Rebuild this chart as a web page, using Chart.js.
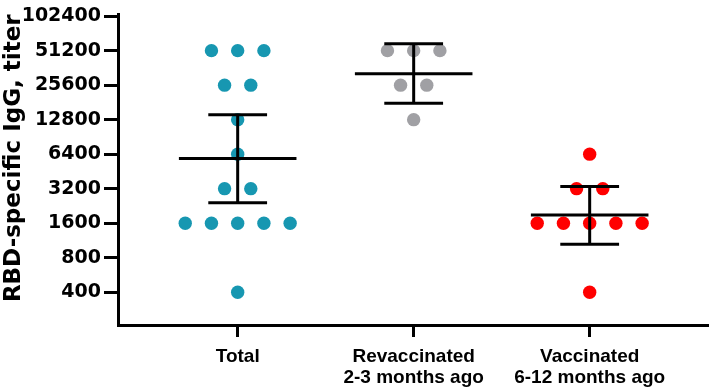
<!DOCTYPE html>
<html><head><meta charset="utf-8">
<script src="https://cdn.jsdelivr.net/npm/chart.js@4"></script>
<style>html,body{margin:0;padding:0;background:#fff}</style>
</head><body>
<canvas id="c" width="715" height="392"></canvas>
<script>
const categories = [["Total"], ["Revaccinated", "2-3 months ago"], ["Vaccinated", "6-12 months ago"]];
const yTickValues = [400, 800, 1600, 3200, 6400, 12800, 25600, 51200, 102400];
const totalValues = [51200, 51200, 51200, 25600, 25600, 12800, 6400, 3200, 3200, 1600, 1600, 1600, 1600, 1600, 400];
const revaccinatedValues = [51200, 51200, 51200, 25600, 25600, 12800];
const vaccinatedValues = [6400, 3200, 3200, 1600, 1600, 1600, 1600, 1600, 400];
const meanValues = [5880, 32200, 1890];
const upperValues = [14100, 58900, 3350];
const lowerValues = [2410, 17800, 1050];
const groupColors = ['#1797b1', '#a0a0a4', '#ff0000'];

const DOT_STEP = 0.149;
const MEAN_HALF = 0.334;
const CAP_HALF = 0.167;

function swarm(values, gi) {
  const counts = {}, seen = {};
  values.forEach(v => counts[v] = (counts[v] || 0) + 1);
  return values.map(v => {
    const i = seen[v] = (seen[v] || 0) + 1;
    return {x: gi + (i - 1 - (counts[v] - 1) / 2) * DOT_STEP, y: v};
  });
}

const groups = [totalValues, revaccinatedValues, vaccinatedValues];
const datasets = [];
groups.forEach((vals, gi) => {
  datasets.push({
    data: swarm(vals, gi), backgroundColor: groupColors[gi], borderWidth: 0,
    pointRadius: 6.7, pointHoverRadius: 6.7, showLine: false, order: 2
  });
});
function seg(a, b) {
  return {data: [a, b], showLine: true, borderColor: '#000', borderWidth: 3, pointRadius: 0,
          borderCapStyle: 'butt', fill: false, order: 0};
}
meanValues.forEach((m, gi) => {
  datasets.push(seg({x: gi - MEAN_HALF, y: m}, {x: gi + MEAN_HALF, y: m}));
  datasets.push(seg({x: gi, y: lowerValues[gi]}, {x: gi, y: upperValues[gi]}));
  datasets.push(seg({x: gi - CAP_HALF, y: upperValues[gi]}, {x: gi + CAP_HALF, y: upperValues[gi]}));
  datasets.push(seg({x: gi - CAP_HALF, y: lowerValues[gi]}, {x: gi + CAP_HALF, y: lowerValues[gi]}));
});

new Chart(document.getElementById('c'), {
  type: 'scatter',
  data: {datasets},
  options: {
    responsive: false,
    animation: false,
    layout: {padding: {top: 13, right: 2, left: 0, bottom: 0}},
    plugins: {legend: {display: false}, tooltip: {enabled: false}},
    scales: {
      x: {
        type: 'linear', min: -0.68, max: 2.674,
        afterBuildTicks: s => { s.ticks = categories.map((c, i) => ({value: i})); },
        afterFit: s => { s.height = 67; },
        border: {color: '#000', width: 3},
        grid: {drawOnChartArea: false, color: '#000', tickColor: '#000', tickLength: 12, tickWidth: 3},
        ticks: {
          autoSkip: false, maxRotation: 0, color: '#000', padding: 9,
          font: {family: 'Liberation Sans', weight: 'bold', size: 19, lineHeight: 1.1},
          callback: v => categories[v]
        }
      },
      y: {
        type: 'logarithmic', min: 207, max: 106000,
        afterBuildTicks: s => { s.ticks = yTickValues.map(v => ({value: v})); },
        afterFit: s => { s.width = 118; },
        border: {color: '#000', width: 3},
        grid: {drawOnChartArea: false, color: '#000', tickColor: '#000', tickLength: 14, tickWidth: 3},
        ticks: {
          color: '#000', padding: 3,
          font: {family: 'DejaVu Sans', weight: 'bold', size: 19},
          callback: v => String(v)
        },
        title: {
          display: true, text: 'RBD-specific IgG, titer', color: '#000', padding: 0, align: 'end',
          font: {family: 'DejaVu Sans', weight: 'bold', size: 23}
        }
      }
    }
  }
});
</script>
</body></html>
